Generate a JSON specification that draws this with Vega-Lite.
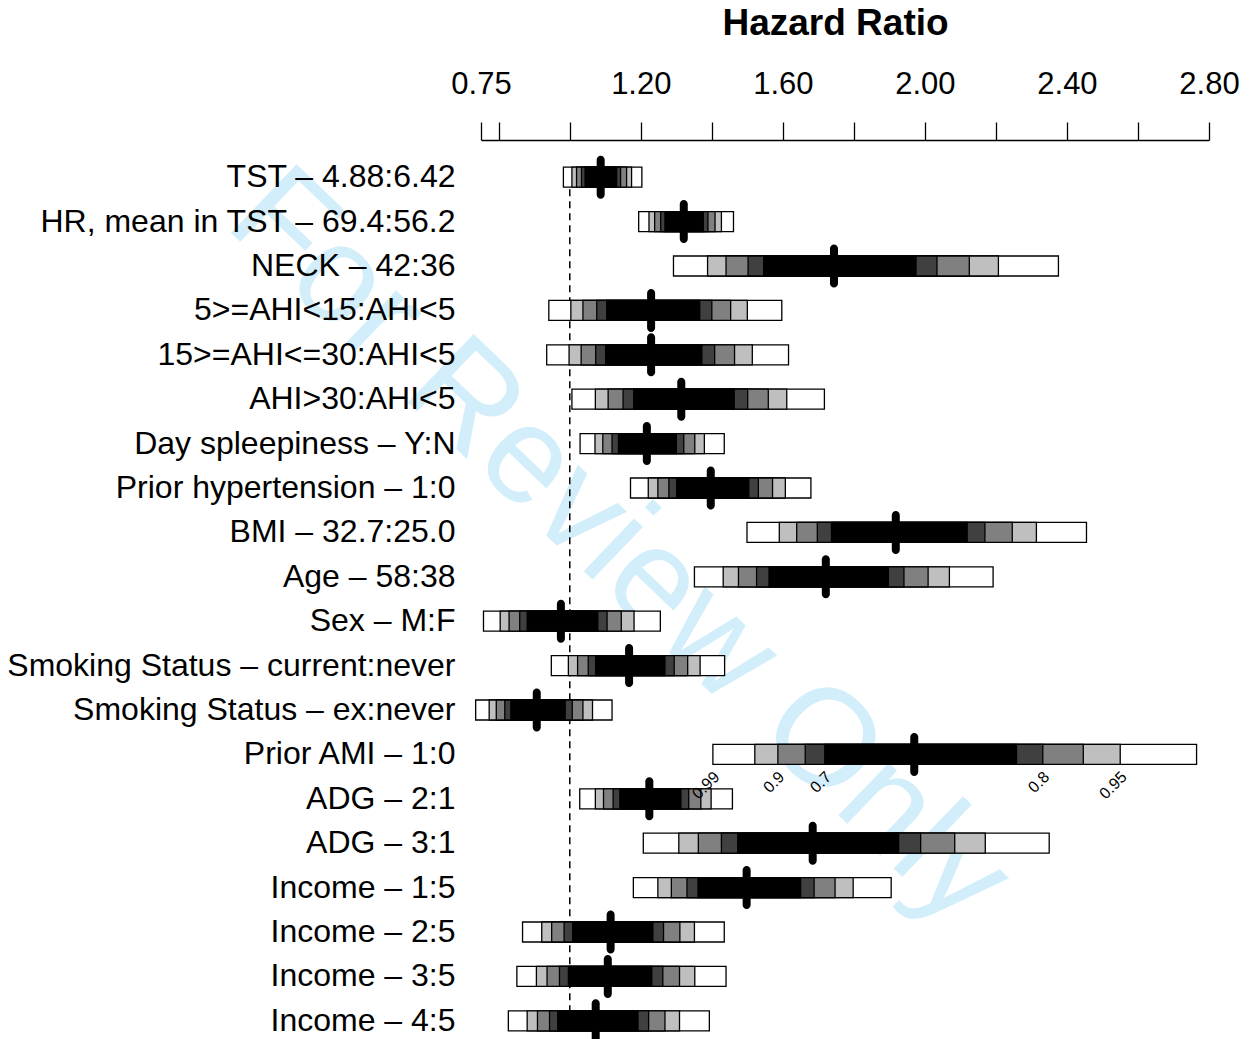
{
  "$schema": "https://vega.github.io/schema/vega-lite/v6.json",
  "width": 728,
  "height": 888,
  "autosize": "none",
  "padding": {"left": 481, "top": 155, "right": 45, "bottom": 0},
  "background": "white",
  "config": {"font": "Liberation Sans", "view": {"stroke": null}},
  "datasets": {
    "rows": [
      {"label": "TST – 4.88:6.42", "lo99": 0.982, "lo95": 1.006, "lo90": 1.019, "lo80": 1.033, "lo70": 1.043, "est": 1.087, "hi70": 1.132, "hi80": 1.143, "hi90": 1.160, "hi95": 1.174, "hi99": 1.203},
      {"label": "HR, mean in TST – 69.4:56.2", "lo99": 1.194, "lo95": 1.223, "lo90": 1.239, "lo80": 1.256, "lo70": 1.268, "est": 1.321, "hi70": 1.376, "hi80": 1.389, "hi90": 1.409, "hi95": 1.427, "hi99": 1.461},
      {"label": "NECK – 42:36", "lo99": 1.292, "lo95": 1.388, "lo90": 1.440, "lo80": 1.502, "lo70": 1.546, "est": 1.744, "hi70": 1.975, "hi80": 2.034, "hi90": 2.125, "hi95": 2.207, "hi99": 2.376},
      {"label": "5>=AHI<15:AHI<5", "lo99": 0.941, "lo95": 1.003, "lo90": 1.037, "lo80": 1.076, "lo70": 1.104, "est": 1.229, "hi70": 1.366, "hi80": 1.400, "hi90": 1.453, "hi95": 1.500, "hi99": 1.597},
      {"label": "15>=AHI<=30:AHI<5", "lo99": 0.935, "lo95": 0.998, "lo90": 1.032, "lo80": 1.073, "lo70": 1.101, "est": 1.229, "hi70": 1.372, "hi80": 1.408, "hi90": 1.464, "hi95": 1.514, "hi99": 1.616},
      {"label": "AHI>30:AHI<5", "lo99": 1.006, "lo95": 1.072, "lo90": 1.108, "lo80": 1.150, "lo70": 1.180, "est": 1.314, "hi70": 1.463, "hi80": 1.501, "hi90": 1.559, "hi95": 1.611, "hi99": 1.717},
      {"label": "Day spleepiness – Y:N", "lo99": 1.029, "lo95": 1.071, "lo90": 1.093, "lo80": 1.119, "lo70": 1.137, "est": 1.217, "hi70": 1.300, "hi80": 1.321, "hi90": 1.352, "hi95": 1.379, "hi99": 1.435},
      {"label": "Prior hypertension – 1:0", "lo99": 1.171, "lo95": 1.221, "lo90": 1.248, "lo80": 1.279, "lo70": 1.301, "est": 1.397, "hi70": 1.504, "hi80": 1.531, "hi90": 1.571, "hi95": 1.607, "hi99": 1.679},
      {"label": "BMI – 32.7:25.0", "lo99": 1.499, "lo95": 1.590, "lo90": 1.639, "lo80": 1.697, "lo70": 1.737, "est": 1.918, "hi70": 2.119, "hi80": 2.169, "hi90": 2.246, "hi95": 2.314, "hi99": 2.455},
      {"label": "Age – 58:38", "lo99": 1.351, "lo95": 1.432, "lo90": 1.475, "lo80": 1.526, "lo70": 1.561, "est": 1.721, "hi70": 1.897, "hi80": 1.941, "hi90": 2.009, "hi95": 2.069, "hi99": 2.192},
      {"label": "Sex – M:F", "lo99": 0.757, "lo95": 0.804, "lo90": 0.829, "lo80": 0.859, "lo70": 0.880, "est": 0.975, "hi70": 1.079, "hi80": 1.105, "hi90": 1.145, "hi95": 1.181, "hi99": 1.255},
      {"label": "Smoking Status – current:never", "lo99": 0.948, "lo95": 0.996, "lo90": 1.022, "lo80": 1.052, "lo70": 1.073, "est": 1.167, "hi70": 1.268, "hi80": 1.294, "hi90": 1.332, "hi95": 1.367, "hi99": 1.436},
      {"label": "Smoking Status – ex:never", "lo99": 0.735, "lo95": 0.773, "lo90": 0.793, "lo80": 0.817, "lo70": 0.834, "est": 0.907, "hi70": 0.987, "hi80": 1.007, "hi90": 1.037, "hi95": 1.064, "hi99": 1.119},
      {"label": "Prior AMI – 1:0", "lo99": 1.403, "lo95": 1.521, "lo90": 1.586, "lo80": 1.663, "lo70": 1.718, "est": 1.970, "hi70": 2.258, "hi80": 2.332, "hi90": 2.446, "hi95": 2.550, "hi99": 2.765},
      {"label": "ADG – 2:1", "lo99": 1.028, "lo95": 1.072, "lo90": 1.095, "lo80": 1.122, "lo70": 1.141, "est": 1.224, "hi70": 1.313, "hi80": 1.335, "hi90": 1.369, "hi95": 1.398, "hi99": 1.458},
      {"label": "ADG – 3:1", "lo99": 1.207, "lo95": 1.307, "lo90": 1.362, "lo80": 1.427, "lo70": 1.473, "est": 1.684, "hi70": 1.926, "hi80": 1.988, "hi90": 2.084, "hi95": 2.170, "hi99": 2.350},
      {"label": "Income – 1:5", "lo99": 1.179, "lo95": 1.248, "lo90": 1.286, "lo80": 1.330, "lo70": 1.361, "est": 1.498, "hi70": 1.650, "hi80": 1.688, "hi90": 1.747, "hi95": 1.798, "hi99": 1.905},
      {"label": "Income – 2:5", "lo99": 0.867, "lo95": 0.921, "lo90": 0.949, "lo80": 0.984, "lo70": 1.008, "est": 1.115, "hi70": 1.234, "hi80": 1.264, "hi90": 1.310, "hi95": 1.351, "hi99": 1.435},
      {"label": "Income – 3:5", "lo99": 0.851, "lo95": 0.906, "lo90": 0.936, "lo80": 0.971, "lo70": 0.996, "est": 1.107, "hi70": 1.231, "hi80": 1.262, "hi90": 1.309, "hi95": 1.352, "hi99": 1.440},
      {"label": "Income – 4:5", "lo99": 0.827, "lo95": 0.880, "lo90": 0.909, "lo80": 0.943, "lo70": 0.966, "est": 1.073, "hi70": 1.192, "hi80": 1.222, "hi90": 1.268, "hi95": 1.309, "hi99": 1.393}
    ],
    "conf": [
      {"label": "Prior AMI – 1:0", "conf": "0.99", "val": 1.403},
      {"label": "Prior AMI – 1:0", "conf": "0.9", "val": 1.586},
      {"label": "Prior AMI – 1:0", "conf": "0.7", "val": 1.718},
      {"label": "Prior AMI – 1:0", "conf": "0.8", "val": 2.332},
      {"label": "Prior AMI – 1:0", "conf": "0.95", "val": 2.550}
    ]
  },
  "data": {"name": "rows"},
  "encoding": {
    "y": {
      "field": "label",
      "type": "nominal",
      "sort": null,
      "scale": {
        "domain": ["TST – 4.88:6.42", "HR, mean in TST – 69.4:56.2", "NECK – 42:36", "5>=AHI<15:AHI<5", "15>=AHI<=30:AHI<5", "AHI>30:AHI<5", "Day spleepiness – Y:N", "Prior hypertension – 1:0", "BMI – 32.7:25.0", "Age – 58:38", "Sex – M:F", "Smoking Status – current:never", "Smoking Status – ex:never", "Prior AMI – 1:0", "ADG – 2:1", "ADG – 3:1", "Income – 1:5", "Income – 2:5", "Income – 3:5", "Income – 4:5"],
        "paddingInner": 0,
        "paddingOuter": 0
      },
      "axis": {"title": null, "ticks": false, "domain": false, "labelFontSize": 32, "labelColor": "black", "labelPadding": 26, "labelLimit": 600, "zindex": 2}
    }
  },
  "layer": [
    {
      "data": {"values": [{}]},
      "mark": {"type": "text", "text": "For Review Only", "fontSize": 138, "color": "#D3EEFB", "angle": 43.8, "align": "center", "baseline": "middle", "yOffset": 16},
      "encoding": {
        "x": {"datum": 1.139, "type": "quantitative", "title": "Hazard Ratio"},
        "y": {"datum": "BMI – 32.7:25.0", "type": "nominal"}
      }
    },
    {
      "data": {"values": [{}]},
      "mark": {"type": "rule", "strokeDash": [7, 5], "strokeWidth": 1.5, "color": "black"},
      "encoding": {
        "x": {"datum": 1.0, "type": "quantitative", "title": "Hazard Ratio"},
        "y": {"datum": "TST – 4.88:6.42", "type": "nominal"},
        "y2": {"datum": "Income – 4:5"}
      }
    },
    {
      "mark": {"type": "bar", "size": 20, "fill": "#FFFFFF", "stroke": "black", "strokeWidth": 1.3},
      "encoding": {
        "x": {
          "field": "lo99", "type": "quantitative", "title": "Hazard Ratio",
          "scale": {"domain": [0.75, 2.8], "nice": false, "zero": false},
          "axis": {
            "orient": "top", "offset": 15,
            "values": [0.75, 0.8, 1, 1.2, 1.4, 1.6, 1.8, 2, 2.2, 2.4, 2.6, 2.8],
            "labelExpr": "indexof([0.75, 1.2, 1.6, 2, 2.4, 2.8], datum.value) >= 0 ? format(datum.value, '.2f') : ''",
            "labelOverlap": false, "labelFlush": false, "labelFontSize": 31, "labelColor": "black", "labelPadding": 22,
            "tickSize": 18, "tickColor": "black", "tickWidth": 1.3,
            "domainColor": "black", "domainWidth": 1.3, "grid": false,
            "titleFontSize": 37, "titleFontWeight": "bold", "titleColor": "black", "titlePadding": 26,
            "titleX": 354, "titleAlign": "center", "titleAnchor": null
          }
        },
        "x2": {"field": "hi99"}
      }
    },
    {
      "mark": {"type": "bar", "size": 20, "fill": "#BFBFBF", "stroke": "black", "strokeWidth": 1.3},
      "encoding": {"x": {"field": "lo95", "type": "quantitative", "title": "Hazard Ratio"}, "x2": {"field": "hi95"}}
    },
    {
      "mark": {"type": "bar", "size": 20, "fill": "#808080", "stroke": "black", "strokeWidth": 1.3},
      "encoding": {"x": {"field": "lo90", "type": "quantitative", "title": "Hazard Ratio"}, "x2": {"field": "hi90"}}
    },
    {
      "mark": {"type": "bar", "size": 20, "fill": "#404040", "stroke": "black", "strokeWidth": 1.3},
      "encoding": {"x": {"field": "lo80", "type": "quantitative", "title": "Hazard Ratio"}, "x2": {"field": "hi80"}}
    },
    {
      "mark": {"type": "bar", "size": 20, "fill": "#000000", "stroke": "black", "strokeWidth": 1.3},
      "encoding": {"x": {"field": "lo70", "type": "quantitative", "title": "Hazard Ratio"}, "x2": {"field": "hi70"}}
    },
    {
      "mark": {"type": "tick", "thickness": 8, "size": 43, "color": "black", "opacity": 1, "cornerRadius": 4},
      "encoding": {"x": {"field": "est", "type": "quantitative", "title": "Hazard Ratio"}}
    },
    {
      "data": {"name": "conf"},
      "mark": {"type": "text", "angle": -45, "align": "right", "baseline": "middle", "fontSize": 16, "color": "black", "yOffset": 20, "xOffset": 4},
      "encoding": {
        "x": {"field": "val", "type": "quantitative", "title": "Hazard Ratio"},
        "text": {"field": "conf"}
      }
    }
  ]
}
